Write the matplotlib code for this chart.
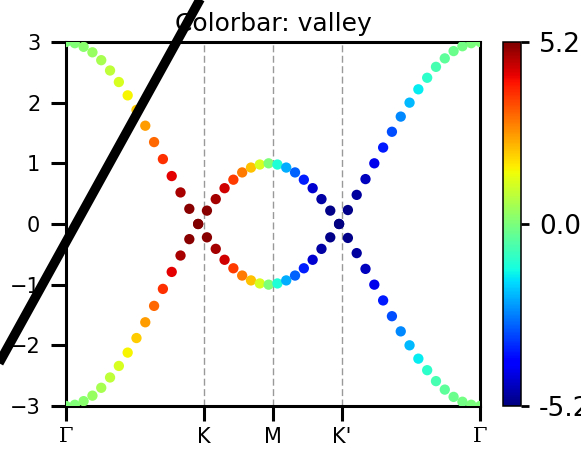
import numpy as np
import matplotlib
matplotlib.use("Agg")
import matplotlib.pyplot as plt
from matplotlib.lines import Line2D

# === BAND DATA ALONG THE PATH G-K-M-K'-G (48 k-points) ===

upper_band = [
    3.00, 2.98, 2.92, 2.83, 2.70, 2.53, 2.34, 2.12, 1.88, 1.62, 1.35, 1.07, 0.79, 0.52, 0.25, 0.00,
    0.22, 0.41, 0.59, 0.73, 0.85, 0.93, 0.98, 1.00,
    0.98, 0.93, 0.85, 0.73, 0.59, 0.41, 0.22, 0.00,
    0.23, 0.48, 0.74, 1.00, 1.26, 1.52, 1.77, 2.00, 2.22, 2.41, 2.59, 2.73, 2.85, 2.93, 2.98, 3.00,
]
lower_band = [
    -3.00, -2.98, -2.92, -2.83, -2.70, -2.53, -2.34, -2.12, -1.88, -1.62, -1.35, -1.07, -0.79, -0.52, -0.25, 0.00,
    -0.22, -0.41, -0.59, -0.73, -0.85, -0.93, -0.98, -1.00,
    -0.98, -0.93, -0.85, -0.73, -0.59, -0.41, -0.22, 0.00,
    -0.23, -0.48, -0.74, -1.00, -1.26, -1.52, -1.77, -2.00, -2.22, -2.41, -2.59, -2.73, -2.85, -2.93, -2.98, -3.00,
]
# valley index, same for both bands at a given k
valley = [
    0.00, 0.05, 0.20, 0.35, 0.55, 0.85, 1.15, 1.55, 2.00, 2.55, 3.10, 3.70, 4.30, 4.80, 5.10, 5.20,
    5.10, 4.85, 4.45, 3.60, 2.90, 2.15, 1.15, 0.00,
    -1.15, -2.15, -2.90, -3.60, -4.45, -4.85, -5.10, -5.20,
    -5.10, -4.90, -4.60, -4.20, -3.65, -3.10, -2.50, -2.00, -1.50, -1.00, -0.65, -0.40, -0.22, -0.10, -0.04, 0.00,
]

path_labels = ["Γ", "K", "M", "K'", "Γ"]
path_fracs = [0.0, 1 / 3, 1 / 2, 2 / 3, 1.0]
energy_ticks = [-3, -2, -1, 0, 1, 2, 3]
cbar_ticks = [5.2, 0.0, -5.2]
cbar_labels = ["5.2", "0.0", "-5.2"]
VMAX = 5.2

# black slash across the upper-left corner (figure fraction)
slash_x = [-0.03, 0.36]
slash_y = [0.125, 1.038]

plt.rcParams["font.family"] = "DejaVu Sans"

fig = plt.figure(figsize=(5.81, 4.49), dpi=100)
ax = fig.add_axes([0.1136, 0.0958, 0.7126, 0.8107])
cax = fig.add_axes([0.8657, 0.0958, 0.031, 0.8107])

k = np.arange(len(upper_band))
kmax = k[-1]

sc = ax.scatter(k, upper_band, c=valley, cmap="jet", vmin=-VMAX, vmax=VMAX,
                s=55, linewidths=0, zorder=3)
ax.scatter(k, lower_band, c=valley, cmap="jet", vmin=-VMAX, vmax=VMAX,
           s=55, linewidths=0, zorder=3)

tick_pos = [f * kmax for f in path_fracs]
for x in tick_pos[1:-1]:
    ax.axvline(x, color="0.6", lw=1.0, dashes=(5, 2.5), zorder=1)

ax.set_xlim(0, kmax)
ax.set_ylim(-3, 3)
ax.set_xticks(tick_pos, path_labels)
ax.set_yticks(energy_ticks)
ax.tick_params(axis="both", direction="out", length=11, width=2.2,
               pad=7.5, labelsize=15)
ax.tick_params(axis="x", pad=4, labelsize=15)
for lab in ax.get_xticklabels():
    if lab.get_text() == "Γ":
        lab.set_fontfamily("DejaVu Serif")
for sp in ax.spines.values():
    sp.set_linewidth(2.2)
ax.set_title("Colorbar: valley", fontsize=18, pad=8)

cb = fig.colorbar(sc, cax=cax, ticks=cbar_ticks)
cb.ax.set_yticklabels(cbar_labels)
cb.ax.tick_params(length=6, width=2, pad=7, labelsize=19)
cb.outline.set_linewidth(1.1)

fig.add_artist(Line2D(slash_x, slash_y, transform=fig.transFigure,
                      color="black", lw=6.8, solid_capstyle="butt", zorder=10))

fig.savefig("out.png", dpi=100)
